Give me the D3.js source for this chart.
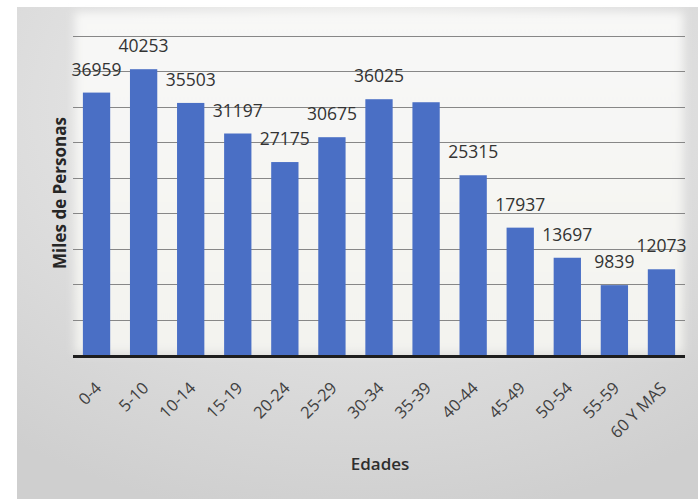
<!DOCTYPE html>
<html>
<head>
<meta charset="utf-8">
<script src="https://cdn.jsdelivr.net/npm/d3@7"></script>
<style>
  html, body { margin: 0; padding: 0; background: #ffffff; }
  svg { display: block; }
</style>
</head>
<body>
<svg id="chart" width="698" height="499"></svg>
<script>
// Población por grupos de edad (miles de personas)
const categories = ["0-4", "5-10", "10-14", "15-19", "20-24", "25-29", "30-34",
                    "35-39", "40-44", "45-49", "50-54", "55-59", "60 Y MAS"];
const values = [36959, 40253, 35503, 31197, 27175, 30675, 36025,
                35600, 25315, 17937, 13697, 9839, 12073];
// Etiquetas de valor visibles (el grupo 35-39 no lleva etiqueta)
const showLabel = [true, true, true, true, true, true, true,
                   false, true, true, true, true, true];
const yTicks = [5000, 10000, 15000, 20000, 25000, 30000, 35000, 40000, 45000];
const yMax = 45000;

const svg = d3.select("#chart");
const W = 698, H = 499;
const plot = { left: 73, right: 685, top: 35.5, bottom: 355 };

// Fondo del gráfico con degradado suave
const defs = svg.append("defs");
const bg = defs.append("radialGradient").attr("id", "bgGrad")
  .attr("cx", "0.5").attr("cy", "0.2").attr("r", "0.85");
bg.append("stop").attr("offset", "0").attr("stop-color", "#f3f3f1");
bg.append("stop").attr("offset", "0.5").attr("stop-color", "#e0e0e0");
bg.append("stop").attr("offset", "1").attr("stop-color", "#cfcfcf");

const plotGrad = defs.append("linearGradient").attr("id", "plotGrad")
  .attr("x1", 0).attr("y1", 0).attr("x2", 0).attr("y2", 1);
plotGrad.append("stop").attr("offset", "0").attr("stop-color", "#f8f8f7");
plotGrad.append("stop").attr("offset", "1").attr("stop-color", "#f3f3ef");

const soft = defs.append("filter").attr("id", "soft")
  .attr("x", "-10%").attr("y", "-10%").attr("width", "120%").attr("height", "120%");
soft.append("feGaussianBlur").attr("stdDeviation", 5);

svg.append("rect")
  .attr("x", 17).attr("y", 7).attr("width", W - 17).attr("height", H - 7)
  .attr("fill", "url(#bgGrad)");

svg.append("rect")
  .attr("x", plot.left + 2).attr("y", 12)
  .attr("width", plot.right - plot.left - 4).attr("height", plot.bottom - 14)
  .attr("fill", "url(#plotGrad)")
  .attr("filter", "url(#soft)");

// Escalas
const x = d3.scaleBand()
  .domain(categories)
  .range([plot.left, plot.right])
  .paddingInner(0.42)
  .paddingOuter(0.21);

const y = d3.scaleLinear()
  .domain([0, yMax])
  .range([plot.bottom, plot.top]);

// Líneas de división horizontales
const grid = svg.append("g")
  .attr("transform", `translate(${plot.left},0)`)
  .call(d3.axisLeft(y).tickValues(yTicks).tickSize(-(plot.right - plot.left)).tickFormat(""));
grid.select(".domain").remove();
grid.selectAll(".tick line")
  .attr("stroke", "#878787")
  .attr("stroke-width", 1)
  .attr("shape-rendering", "crispEdges");

// Barras
const data = categories.map((c, i) => ({ cat: c, val: values[i], label: showLabel[i] }));

svg.append("g").selectAll("rect")
  .data(data)
  .join("rect")
  .attr("x", d => x(d.cat))
  .attr("y", d => y(d.val))
  .attr("width", x.bandwidth())
  .attr("height", d => y(0) - y(d.val))
  .attr("fill", "#4a6fc5");

// Etiquetas de valor
svg.append("g").selectAll("text")
  .data(data.filter(d => d.label))
  .join("text")
  .attr("x", d => x(d.cat) + x.bandwidth() / 2)
  .attr("y", d => y(d.val) - 17)
  .attr("text-anchor", "middle")
  .attr("font-family", "'Open Sans', sans-serif")
  .attr("font-size", "17.5px")
  .attr("fill", "#333333")
  .text(d => d.val);

// Eje horizontal
const xAxis = svg.append("g")
  .attr("transform", `translate(0,${plot.bottom})`)
  .call(d3.axisBottom(x).tickSize(0).tickPadding(0));
xAxis.select(".domain")
  .attr("stroke", "#1e1e1e")
  .attr("stroke-width", 3)
  .attr("d", `M${plot.left},1.5H${plot.right}`);
xAxis.selectAll(".tick text")
  .attr("font-family", "'Open Sans', sans-serif")
  .attr("font-size", "16.5px")
  .attr("fill", "#404040")
  .attr("text-anchor", "end")
  .attr("dy", 0)
  .attr("y", 0)
  .attr("transform", "translate(6,34) rotate(-45)");

// Títulos de los ejes
svg.append("text")
  .attr("transform", "translate(66,193) rotate(-90)")
  .attr("text-anchor", "middle")
  .attr("font-family", "'Open Sans', sans-serif")
  .attr("font-weight", 700)
  .attr("font-size", "17px")
  .attr("fill", "#262626")
  .text("Miles de Personas");

svg.append("text")
  .attr("x", (plot.left + plot.right) / 2 + 1)
  .attr("y", 470)
  .attr("text-anchor", "middle")
  .attr("font-family", "'Open Sans', sans-serif")
  .attr("font-weight", 600)
  .attr("font-size", "17px")
  .attr("fill", "#2e2e2e")
  .text("Edades");
</script>
</body>
</html>
